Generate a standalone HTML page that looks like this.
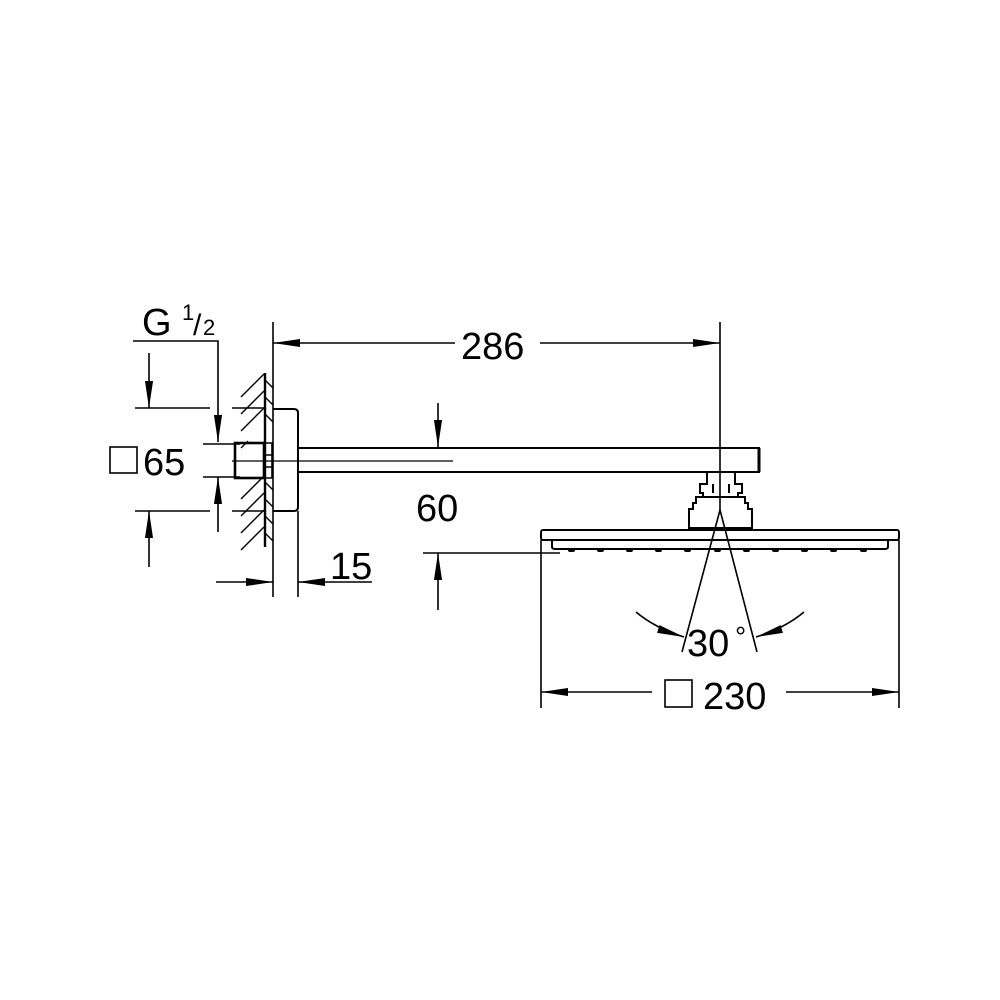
<!DOCTYPE html>
<html><head><meta charset="utf-8"><style>
html,body{margin:0;padding:0;background:#fff}
svg{display:block}
text{font-family:"Liberation Sans",sans-serif;fill:#000}
</style></head><body>
<svg width="1000" height="1000" viewBox="0 0 1000 1000" xmlns="http://www.w3.org/2000/svg">
<defs>
<marker id="a" viewBox="0 0 10 10" refX="10" refY="5" markerWidth="27" markerHeight="9" markerUnits="userSpaceOnUse" orient="auto" preserveAspectRatio="none"><path d="M0,0.5 L10,5 L0,9.5 Z" fill="#000"/></marker>
</defs>
<g stroke="#000" stroke-width="1.6" fill="none">
<path d="M133 341 H218 V442" marker-end="url(#a)"/>
<path d="M149 353 V408" marker-end="url(#a)"/>
<path d="M149 567 V511" marker-end="url(#a)"/>
<path d="M218 532 V477" marker-end="url(#a)"/>
<path d="M135 408 H210 M232 408 H265 M135 511 H210 M232 511 H265"/>
<path d="M203 444 H240 M203 477 H240"/>
<path d="M265 373 V547" stroke-width="2.4"/>
<path d="M273 322 V597"/>
<path d="M298 511 V597"/>
<g stroke-width="1.4">
<path d="M241 397 L264 374 M241 414 L264 391 M241 431 L264 408 M241 448 L248 441 M241 499 L264 476 M241 516 L264 493 M241 533 L264 510 M241 550 L264 527"/>
<path d="M265 380 L273 388 M265 397 L273 405 M265 414 L273 422 M265 482 L273 490 M265 499 L273 507 M265 516 L273 524 M265 533 L273 541"/>
</g>
<path d="M273 409 H294 Q298 409 298 413 V507 Q298 511 294 511 H273" stroke-width="2"/>
<rect x="235" y="443" width="29" height="35" stroke-width="2.6"/>
<path d="M265 443 H272 V478 H265 M265 455 H272 M265 467 H272"/>
<path d="M232 461 H453" stroke-width="1.2"/>
<path d="M298 448 H759 V472 H298" stroke-width="2"/>
<path d="M759 448 V472" stroke-width="3"/>
<path d="M438 403 V447" marker-end="url(#a)"/>
<path d="M438 610 V553" marker-end="url(#a)"/>
<path d="M423 553 H560"/>
<path d="M216 582 H273" marker-end="url(#a)"/>
<path d="M372 582 H298" marker-end="url(#a)"/>
<path d="M455 343 H273" marker-end="url(#a)"/>
<path d="M540 343 H720" marker-end="url(#a)"/>
<path d="M720 322 V510"/>
<g stroke-width="2">
<path d="M707 472 V484 H700 V493 H703 V497 H696 V503 H693 V509 H689 V528 H752 V509 H748 V503 H745 V497 H738 V493 H742 V484 H735 V472"/>
<path d="M713 484 V493 M729 484 V493 M703 497 H738"/>
<rect x="541" y="530" width="358" height="10" rx="2"/>
<path d="M552 540 V547 Q552 549 556 549 H884 Q888 549 888 547 V540"/>
</g>
<g stroke-width="4" stroke-linecap="round">
<path d="M570 550 H573 M599 550 H602 M628 550 H631 M657 550 H660 M686 550 H689 M716 550 H719 M745 550 H748 M774 550 H777 M803 550 H806 M832 550 H835 M862 550 H865"/>
</g>
<path d="M541 540 V708 M899 540 V708"/>
<path d="M720 510 L682 652 M720 510 L757 652"/>
<path d="M636 612 Q655 628 684 637" marker-end="url(#a)"/>
<path d="M804 612 Q785 628 756 637" marker-end="url(#a)"/>
<path d="M652 692 H541" marker-end="url(#a)"/>
<path d="M786 692 H899" marker-end="url(#a)"/>
<rect x="110" y="447" width="27" height="26" stroke-width="1.6"/>
<rect x="665" y="680" width="27" height="27" stroke-width="1.6"/>
</g>
<text x="142" y="335" font-size="38">G</text>
<text x="182" y="320" font-size="22">1</text>
<text x="193" y="335" font-size="30">/</text>
<text x="203" y="335" font-size="22">2</text>
<text x="143" y="475" font-size="38">65</text>
<text x="461" y="359" font-size="38">286</text>
<text x="416" y="521" font-size="38">60</text>
<text x="330" y="579" font-size="38">15</text>
<text x="687" y="656" font-size="38">30</text>
<text x="735" y="646" font-size="28">°</text>
<text x="703" y="709" font-size="38">230</text>
</svg>
</body></html>
